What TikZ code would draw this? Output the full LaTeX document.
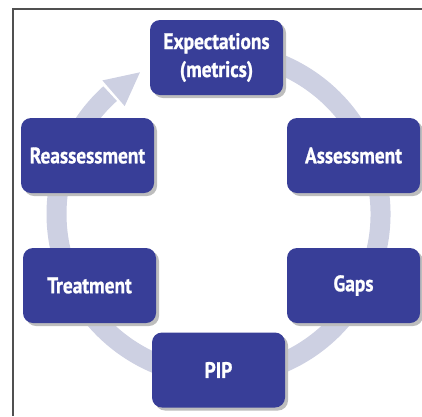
\documentclass[tikz,border=0pt]{standalone}
\usepackage{fontspec}
\newfontfamily\boxfont{PT Sans}[FakeStretch=0.86, BoldFeatures={FakeBold=0.9}]
\usetikzlibrary{shadows,calc}
\definecolor{boxblue}{HTML}{383E98}
\definecolor{ringcol}{HTML}{CDD0E2}
\definecolor{shadowcol}{HTML}{BDBDBD}
\definecolor{framecol}{HTML}{505050}
\tikzset{
  stage/.style={draw=none, fill=boxblue, rounded corners=10pt,
    minimum width=133pt, minimum height=75pt, inner sep=0pt,
    text=white, align=center, font=\boxfont\bfseries\fontsize{22.5}{28}\selectfont,
    drop shadow={shadow xshift=3pt, shadow yshift=-3pt, fill=shadowcol, opacity=1}},
  ring/.style={draw=ringcol, line width=20pt}
}
\begin{document}
\begin{tikzpicture}
\useasboundingbox (0pt,0pt) rectangle (422pt,-416pt);
\draw[framecol, line width=1.2pt] (13pt,-416pt) -- (13pt,-9pt) -- (422pt,-9pt);
\coordinate (c) at (218.5pt,-214pt);
% ring with arrow
\draw[ring] (c) ++(100:162pt) arc[start angle=100, end angle=-228, radius=162pt];
\fill[ringcol] (c) ++(119:162pt) coordinate (tip)
  -- ($(c)+(131:177pt)$) -- ($(c)+(131:143pt)$) -- cycle;
% stages
\node[stage] (exp) at (216.5pt,-57.5pt) {Expectations\\(metrics)};
\node[stage] (ass) at (353.5pt,-155.5pt) {Assessment};
\node[stage] (gap) at (353.5pt,-285.5pt) {Gaps};
\node[stage] (pip) at (218.5pt,-370pt) {PIP};
\node[stage] (tre) at (89.5pt,-285.5pt) {Treatment};
\node[stage] (rea) at (87.5pt,-155.5pt) {Reassessment};
\end{tikzpicture}
\end{document}
